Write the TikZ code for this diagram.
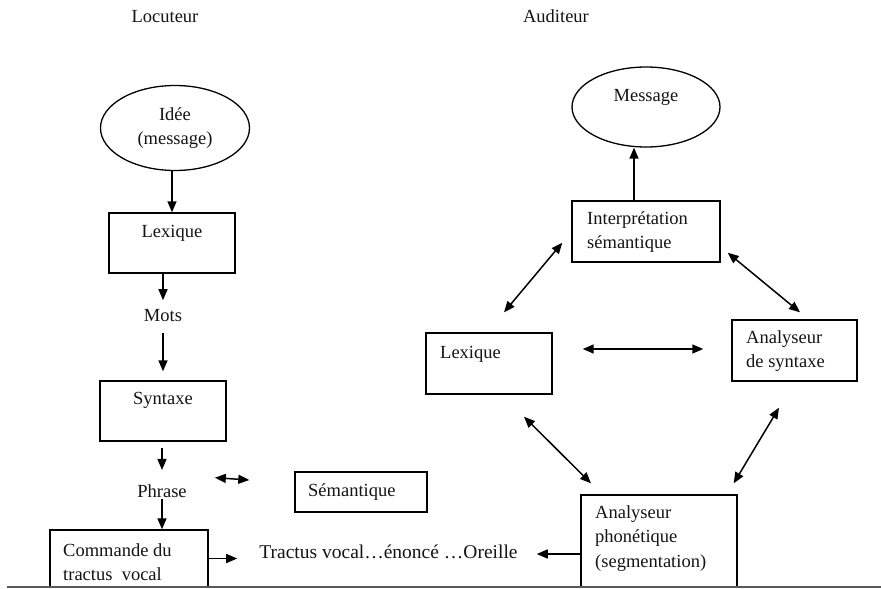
\documentclass[tikz,border=0pt]{standalone}
\usepackage{fontspec}
\setmainfont{Liberation Serif}
\usetikzlibrary{arrows.meta,shapes.geometric}
\begin{document}
\begin{tikzpicture}[x=1pt,y=-1pt,
  every node/.style={font=\fontsize{18.5}{24.5}\selectfont, text=black!92},
  txt/.style={inner sep=0pt, align=left},
  box/.style={draw, line width=1.4pt, inner sep=0pt},
  oval/.style={draw, ellipse, line width=1.3pt, inner sep=0pt},
  tip/.tip={Triangle[length=11pt,width=9pt]},
  arr/.style={line width=1.5pt, -tip},
  darr/.style={line width=1.5pt, tip-tip},
]
\useasboundingbox (0,0) rectangle (881,589);

% headings
\node[txt, anchor=base] (loc) at (165,23) {Locuteur};
\node[txt, anchor=base] (aud) at (556,23) {Auditeur};

% speaker chain
\node[oval, minimum width=149pt, minimum height=85pt, align=center] (idee) at (175,128) {Idée\\(message)};
\node[box, minimum width=126pt, minimum height=60pt] (lexL) at (172,243) {};
\node[txt, anchor=base] (lexLt) at (172,237) {Lexique};
\node[txt, anchor=base] (mots) at (163,321) {Mots};
\node[box, minimum width=126pt, minimum height=60pt] (syntL) at (163,411) {};
\node[txt, anchor=base] (syntLt) at (163,404) {Syntaxe};
\node[txt, anchor=base] (phrase) at (162,497) {Phrase};
\node[box, minimum width=132pt, minimum height=40pt] (sem) at (361,492) {};
\node[txt, anchor=base west] (semt) at (308,496) {Sémantique};
\node[box, minimum width=158pt, minimum height=57pt] (cmd) at (129,558.5) {};
\node[txt, anchor=north west] (cmdt) at (63,543) {Commande du\\tractus\ \ vocal};
\node[txt, text height=13pt, text depth=4pt, font=\fontsize{19.5}{24.5}\selectfont] (tract) at (388.5,554) {Tractus vocal…énoncé …Oreille};

% listener network
\node[oval, minimum width=148pt, minimum height=80pt, text height=13pt, text depth=24pt] (msg) at (646,107) {Message};
\node[box, minimum width=148pt, minimum height=61pt] (interp) at (646,231.5) {};
\node[txt, anchor=north west] (interpt) at (587,211) {Interprétation\\sémantique};
\node[box, minimum width=126pt, minimum height=61pt] (lexR) at (489,363.5) {};
\node[txt, anchor=base west] (lexRt) at (440,358) {Lexique};
\node[box, minimum width=125pt, minimum height=61pt] (syntR) at (794.5,350.5) {};
\node[txt, anchor=north west] (syntRt) at (746,330) {Analyseur\\de syntaxe};
\node[box, minimum width=156pt, minimum height=92pt] (phon) at (659,541) {};
\node[txt, anchor=north west] (phont) at (595,505) {Analyseur\\phonétique\\(segmentation)};

% speaker connectors
\draw[arr] ([xshift=-3pt]idee.south) -- (lexL.north);
\draw[arr, shorten >=8.5pt] (lexL.south -| mots.south) -- (mots.north);
\draw[arr, shorten <=12pt, shorten >=9pt] (mots.south) -- (mots.south |- syntL.north);
\draw[arr, shorten <=6pt, shorten >=14pt] (syntL.south -| phrase.north) -- (phrase.north);
\draw[arr, shorten <=2pt] (phrase.south) -- (phrase.south |- cmd.north);
\draw[darr] ([xshift=28pt,yshift=13pt]phrase.east) -- ([xshift=-45pt,yshift=12pt]sem.west);
\draw[arr, shorten >=22pt] (cmd.east) -- (cmd.east -| tract.west);
\draw[arr, shorten >=19pt] (phon.west |- tract.east) -- (tract.east);

% listener connectors
\draw[arr] ([xshift=-12pt]interp.north) -- ([xshift=-12pt]msg.south);
\draw[darr] ([xshift=-9pt,yshift=20pt]interp.south west) -- ([xshift=15pt,yshift=20pt]lexR.north);
\draw[darr] ([xshift=7pt,yshift=10pt]interp.south east) -- ([xshift=5.5pt,yshift=7pt]syntR.north);
\draw[darr] ([xshift=30pt,yshift=14.5pt]lexR.east) -- ([xshift=-28pt,yshift=1.5pt]syntR.west);
\draw[darr] ([xshift=35pt,yshift=-22pt]lexR.south) -- ([xshift=-68pt,yshift=11pt]phon.north);
\draw[darr] ([xshift=-15.5pt,yshift=-26pt]syntR.south) -- ([xshift=-4pt,yshift=11pt]phon.north east);

% page rule along the bottom
\draw[line width=2.2pt, black!65] (7,587) -- (881,587);
\end{tikzpicture}
\end{document}
